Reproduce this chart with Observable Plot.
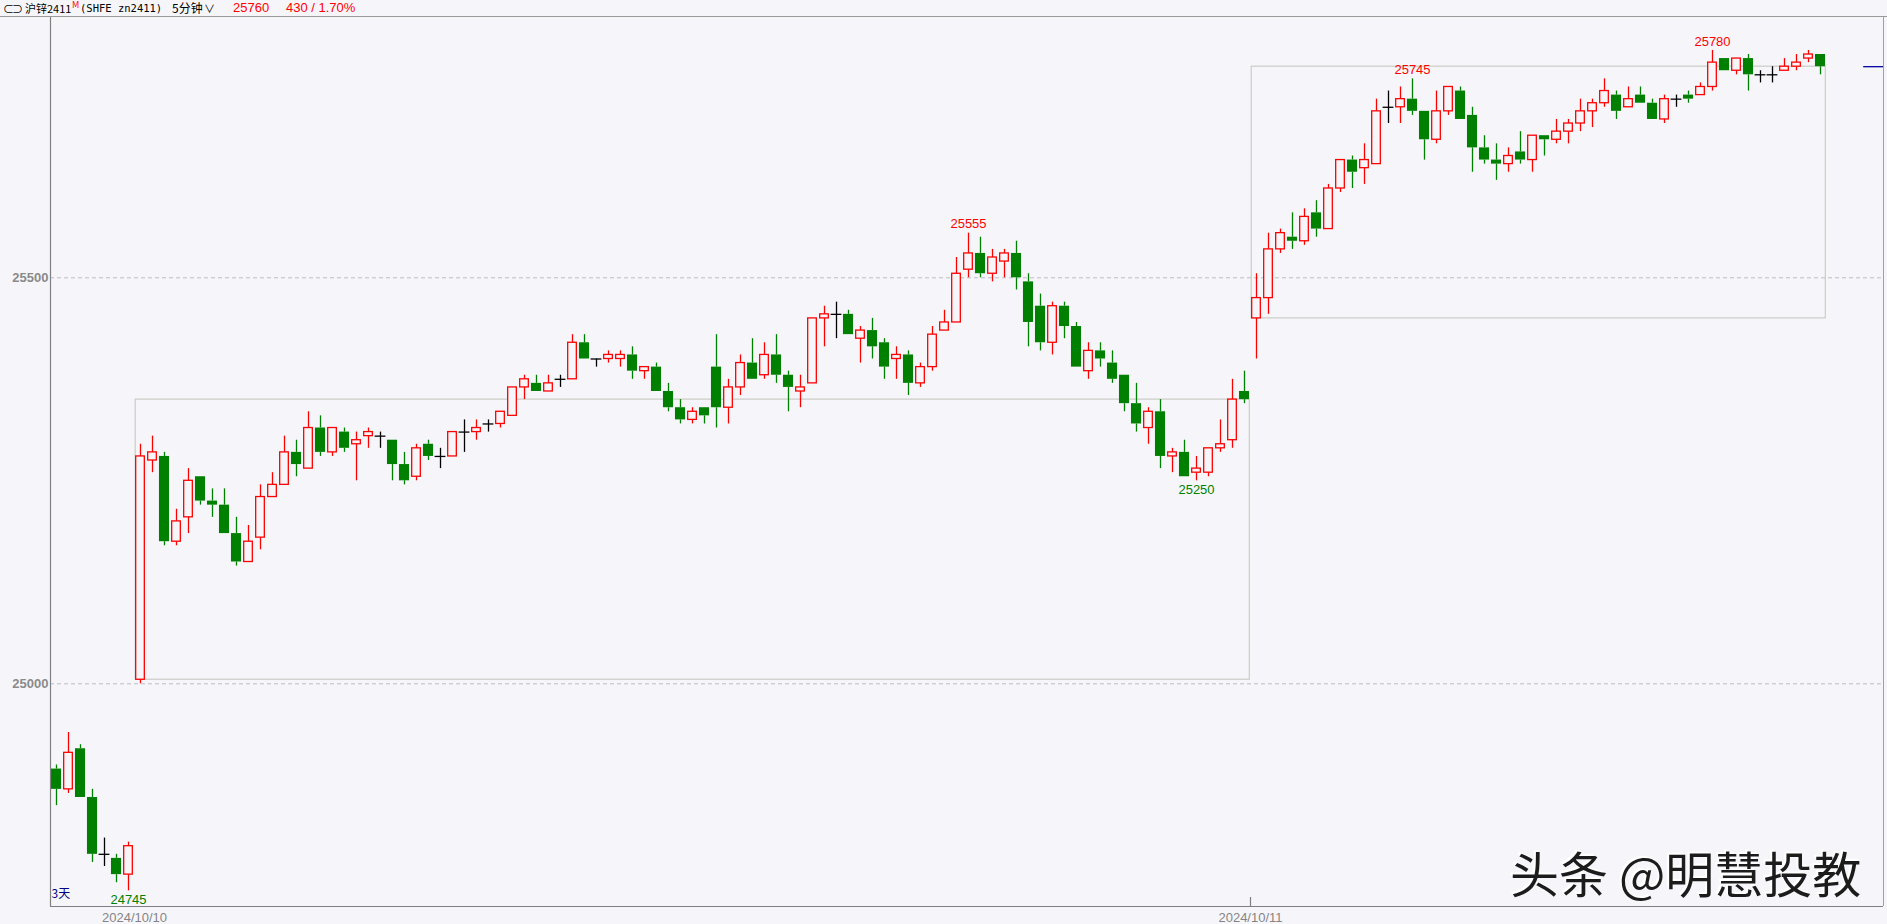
<!DOCTYPE html>
<html>
<head>
<meta charset="utf-8">
<script src="https://cdn.jsdelivr.net/npm/d3@7"></script>
<script src="https://cdn.jsdelivr.net/npm/@observablehq/plot@0.6"></script>
<style>
  html, body { margin: 0; padding: 0; background: #f6f6fa; overflow: hidden; }
  #wrap { position: relative; width: 1887px; height: 924px; }
  #header { position: relative; height: 16px; border-bottom: 1px solid #9a9a9a; font-family: "Noto Sans CJK SC", sans-serif; font-size: 11px; line-height: 16px; }
  #header span { position: absolute; top: 0; white-space: nowrap; }
  #wm { position: absolute; left: 1510px; top: 836px; font-family: "Noto Sans CJK SC", sans-serif; font-size: 49px; color: #1c1c1c; text-shadow: -2px -2px 0 #ffffff; white-space: nowrap; }
  svg { display: block; }
</style>
</head>
<body>
<div id="wrap">
  <div id="header">
    <span style="left:3px;font-size:11px;letter-spacing:-2px;">⊂⊃</span>
    <span style="left:25px;color:#000;">沪锌2411</span>
    <span style="left:72px;top:-3px;color:#ff0000;font-size:9px;">M</span>
    <span style="left:80px;color:#000;font-family:'DejaVu Sans Mono',monospace;font-size:10.5px;">(SHFE zn2411)</span>
    <span style="left:172px;color:#000;font-size:12px;">5分钟</span>
    <span style="left:204px;color:#000;font-size:11px;">∨</span>
    <span style="left:233px;color:#ff0000;font-family:'Liberation Sans',Arial,sans-serif;font-size:13px;">25760</span>
    <span style="left:286px;color:#ff0000;font-family:'Liberation Sans',Arial,sans-serif;font-size:13px;">430 / 1.70%</span>
  </div>
  <div id="chart"></div>
  <div id="wm">头条 @明慧投教</div>
</div>
<script>
// ---- data (5-minute candles, SHFE zn2411) ----
const openP = [24895,24870,24920,24860,24790,24785,24765,25005,25275,25280,
25175,25205,25255,25225,25220,25185,25150,25180,25230,25245,
25285,25265,25315,25285,25310,25295,25305,25305,25300,25270,
25255,25295,25280,25280,25310,25310,25320,25320,25330,25365,
25370,25360,25375,25375,25420,25400,25400,25400,25405,25385,
25390,25360,25340,25325,25340,25390,25340,25365,25395,25380,
25405,25380,25360,25370,25450,25455,25455,25425,25435,25420,
25400,25405,25370,25390,25435,25445,25510,25530,25505,25520,
25530,25495,25465,25420,25465,25440,25385,25410,25395,25380,
25345,25315,25335,25280,25285,25260,25260,25290,25300,25360,
25450,25475,25535,25550,25545,25580,25560,25610,25645,25635,
25640,25710,25710,25720,25705,25670,25705,25730,25700,25660,
25645,25640,25655,25645,25675,25670,25680,25690,25705,25715,
25725,25710,25725,25715,25695,25720,25725,25725,25735,25770,
25755,25770,25750,25750,25755,25760,25770,25775];
const highP = [24900,24940,24925,24870,24810,24790,24805,25295,25305,25285,
25215,25265,25255,25240,25240,25205,25195,25245,25260,25305,
25300,25335,25330,25315,25315,25310,25315,25310,25300,25285,
25295,25300,25290,25310,25325,25325,25325,25335,25365,25380,
25380,25380,25380,25430,25430,25400,25410,25410,25415,25390,
25395,25370,25350,25340,25340,25430,25375,25405,25425,25420,
25430,25385,25380,25450,25465,25470,25460,25440,25450,25425,
25415,25410,25395,25440,25460,25525,25555,25550,25535,25535,
25545,25505,25480,25470,25470,25445,25420,25420,25410,25380,
25370,25340,25350,25290,25300,25280,25290,25325,25375,25385,
25505,25555,25560,25580,25585,25595,25615,25645,25650,25665,
25720,25730,25735,25745,25705,25730,25735,25735,25710,25675,
25665,25660,25680,25675,25675,25695,25695,25720,25720,25745,
25730,25735,25735,25720,25725,25725,25730,25740,25780,25770,
25770,25775,25755,25760,25770,25775,25780,25775];
const lowP = [24850,24865,24860,24780,24775,24755,24745,25000,25260,25170,
25170,25185,25220,25205,25185,25145,25150,25165,25230,25245,
25255,25265,25280,25280,25285,25250,25290,25290,25250,25245,
25250,25275,25265,25280,25285,25300,25310,25315,25330,25350,
25360,25360,25365,25375,25400,25390,25395,25390,25375,25375,
25360,25335,25320,25320,25320,25315,25320,25355,25375,25375,
25370,25335,25340,25370,25415,25425,25430,25395,25400,25375,
25375,25355,25365,25385,25435,25445,25500,25500,25495,25500,
25485,25415,25410,25405,25425,25390,25375,25390,25370,25335,
25310,25295,25265,25260,25255,25250,25255,25285,25290,25345,
25400,25455,25530,25535,25540,25550,25560,25605,25610,25615,
25640,25690,25690,25700,25645,25665,25700,25695,25630,25640,
25620,25630,25640,25630,25650,25665,25665,25680,25685,25710,
25695,25710,25715,25695,25690,25710,25715,25725,25730,25755,
25750,25730,25740,25740,25755,25755,25765,25750];
const closeP = [24870,24915,24860,24790,24790,24765,24800,25280,25285,25175,
25200,25250,25225,25220,25185,25150,25175,25230,25245,25285,
25270,25315,25285,25315,25290,25300,25310,25305,25270,25250,
25290,25280,25280,25310,25310,25315,25320,25335,25365,25375,
25360,25370,25375,25420,25400,25400,25405,25405,25385,25390,
25360,25340,25325,25335,25330,25340,25365,25395,25375,25405,
25380,25365,25365,25450,25455,25455,25430,25435,25415,25390,
25405,25370,25390,25430,25445,25505,25530,25505,25525,25530,
25500,25445,25420,25465,25440,25390,25410,25400,25375,25345,
25320,25335,25280,25285,25255,25265,25290,25295,25350,25350,
25475,25535,25555,25545,25575,25560,25610,25645,25630,25645,
25705,25710,25720,25705,25670,25705,25735,25695,25660,25645,
25640,25650,25645,25675,25670,25680,25690,25705,25715,25730,
25705,25720,25715,25695,25720,25720,25720,25735,25765,25755,
25770,25750,25750,25750,25760,25765,25775,25760];

// price axis ticks (dashed gridlines)
const gridTicks = [25000, 25500];
// session date labels (positioned between candles by index)
const dateTickPos = [6.5, 99.5];
const dateLabels = ["2024/10/10", "2024/10/11"];
// session open-close boxes
const boxStart = [7, 100];
const boxEnd = [99, 147];
const boxLow = [25005, 25450];
const boxHigh = [25350, 25760];
// annotated extremes
const highMarkIdx = [76, 113, 138];
const lowMarkIdx = [6, 95];

const RED = "#ff0000", GREEN = "#008000", BLACK = "#000000";
const candles = openP.map((o, i) => ({i, o, h: highP[i], l: lowP[i], c: closeP[i]}));
const up = candles.filter(d => d.c > d.o);
const down = candles.filter(d => d.c < d.o);
const doji = candles.filter(d => d.c === d.o);
const colorOf = d => d.c > d.o ? RED : d.c < d.o ? GREEN : BLACK;
const upperW = candles.filter(d => d.h > Math.max(d.o, d.c));
const lowerW = candles.filter(d => d.l < Math.min(d.o, d.c));

const xDomain = [-0.5, 152.25];
const yDomain = [24725.74, 25820.57];
const boxes = boxStart.map((s, k) => ({s, e: boxEnd[k], lo: boxLow[k], hi: boxHigh[k]}));

const chart = Plot.plot({
  width: 1887,
  height: 907,
  marginLeft: 50,
  marginRight: 4,
  marginTop: 0,
  marginBottom: 18,
  x: {type: "linear", domain: xDomain, axis: null},
  y: {type: "linear", domain: yDomain, axis: null},
  style: {background: "#f6f6fa", fontFamily: "'Liberation Sans', Arial, sans-serif", overflow: "visible"},
  marks: [
    Plot.ruleY(gridTicks, {stroke: "#bdbdc4", strokeDasharray: "4,3", strokeWidth: 1}),
    Plot.rect(boxes, {x1: d => d.s - 0.4, x2: d => d.e + 0.44, y1: "lo", y2: "hi", fill: "none", stroke: "#cbcbc6", strokeWidth: 1.2}),
    // wicks
    Plot.ruleX(upperW.filter(d => d.c !== d.o), {x: "i", y1: d => Math.max(d.o, d.c), y2: "h", stroke: colorOf, strokeWidth: 1.3}),
    Plot.ruleX(lowerW.filter(d => d.c !== d.o), {x: "i", y1: d => Math.min(d.o, d.c), y2: "l", stroke: colorOf, strokeWidth: 1.3}),
    Plot.ruleX(doji, {x: "i", y1: "l", y2: "h", stroke: BLACK, strokeWidth: 1.3}),
    Plot.ruleY(doji, {y: "o", x1: d => d.i - 0.45, x2: d => d.i + 0.45, stroke: BLACK, strokeWidth: 1.3}),
    // bodies
    Plot.rect(down, {x1: d => d.i - 0.42, x2: d => d.i + 0.42, y1: "o", y2: "c", fill: GREEN}),
    Plot.rect(up, {x1: d => d.i - 0.36, x2: d => d.i + 0.36, y1: "o", y2: "c", fill: "#f6f6fa", stroke: RED, strokeWidth: 1.3}),
    // frame
    Plot.ruleX([xDomain[0]], {stroke: "#808080", strokeWidth: 1.2}),
    Plot.ruleX([xDomain[1]], {stroke: "#a0a0a0", strokeWidth: 1}),
    Plot.ruleY([yDomain[0]], {stroke: "#808080", strokeWidth: 1.2}),
    Plot.ruleX([dateTickPos[1]], {y1: yDomain[0], y2: yDomain[0] + 9 / 0.812, stroke: "#808080", strokeWidth: 1.2}),
    // axis labels
    Plot.text(gridTicks, {x: xDomain[0], y: d => d, text: d => String(d), textAnchor: "end", dx: -2, fill: "#8a8a8a", fontSize: 13, fontWeight: "bold"}),
    Plot.text(dateTickPos, {x: d => d, y: yDomain[0], text: (d, k) => dateLabels[k], dy: 11, fill: "#858585", fontSize: 13}),
    // last price marker
    Plot.ruleY([closeP[closeP.length - 1]], {x1: 150.6, x2: xDomain[1], stroke: "#0000a0", strokeWidth: 1.3}),
    // extremes
    Plot.text(highMarkIdx, {x: d => d, y: d => highP[d], text: d => String(highP[d]), dy: -9, fill: RED, fontSize: 13}),
    Plot.text(lowMarkIdx, {x: d => d, y: d => lowP[d], text: d => String(lowP[d]), dy: 9, fill: GREEN, fontSize: 13}),
    Plot.text(["3天"], {frameAnchor: "bottom-left", text: d => d, textAnchor: "start", dx: 1, dy: -9, fill: "#000080", fontSize: 12, fontFamily: "'Noto Sans CJK SC', sans-serif"})
  ]
});
document.getElementById("chart").appendChild(chart);
</script>
</body>
</html>
